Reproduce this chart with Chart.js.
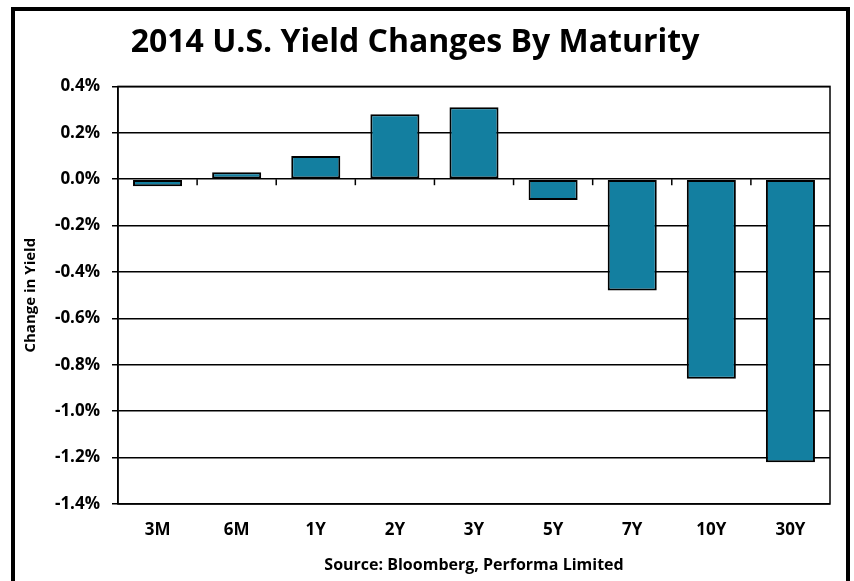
<!DOCTYPE html>
<html>
<head>
<meta charset="utf-8">
<script src="https://cdn.jsdelivr.net/npm/chart.js@4/dist/chart.umd.min.js"></script>
<style>
html,body{margin:0;padding:0;background:#fff;}
#wrap{position:relative;width:854px;height:581px;}
</style>
</head>
<body>
<div id="wrap"><canvas id="c" width="854" height="581"></canvas></div>
<script>
const categories = ['3M','6M','1Y','2Y','3Y','5Y','7Y','10Y','30Y'];
const yieldChanges = [-0.03, 0.03, 0.10, 0.28, 0.31, -0.09, -0.48, -0.86, -1.22];
const titleText = '2014 U.S. Yield Changes By Maturity';
const yTitle = 'Change in Yield';
const xTitle = 'Source: Bloomberg, Performa Limited';

const FONT = "'Open Sans', 'DejaVu Sans', sans-serif";

const framePlugin = {
  id: 'frame',
  beforeDraw(chart) {
    const ctx = chart.ctx;
    ctx.save();
    ctx.fillStyle = '#fff';
    ctx.fillRect(0, 0, chart.width, chart.height);
    ctx.strokeStyle = '#000';
    ctx.lineWidth = 4;
    ctx.strokeRect(13, 9, 835, 600);
    ctx.restore();
  },
  afterDatasetsDraw(chart) {
    const ctx = chart.ctx;
    const a = chart.chartArea;
    const x = chart.scales.x, y = chart.scales.y;
    ctx.save();
    ctx.strokeStyle = '#000';
    ctx.lineWidth = 1.5;
    ctx.strokeRect(a.left, a.top, a.right - a.left, a.bottom - a.top);
    const y0 = y.getPixelForValue(0);
    for (let i = 0; i < categories.length - 1; i++) {
      const xb = (x.getPixelForValue(i) + x.getPixelForValue(i + 1)) / 2;
      ctx.beginPath();
      ctx.moveTo(xb, y0);
      ctx.lineTo(xb, y0 + 6);
      ctx.stroke();
    }
    ctx.restore();
  }
};

new Chart(document.getElementById('c'), {
  type: 'bar',
  data: {
    labels: categories,
    datasets: [{
      data: yieldChanges,
      backgroundColor: '#137FA0',
      borderColor: '#000',
      borderWidth: 2,
      borderSkipped: false,
      categoryPercentage: 1,
      barPercentage: 0.62
    }]
  },
  options: {
    responsive: false,
    animation: false,
    devicePixelRatio: 1,
    layout: { padding: { top: 0, left: 0, right: 24, bottom: 0 } },
    plugins: {
      legend: { display: false },
      tooltip: { enabled: false },
      title: {
        display: true,
        text: titleText,
        color: '#000',
        font: { family: FONT, size: 32, weight: 'bold' },
        padding: { top: 24, bottom: 24 }
      }
    },
    scales: {
      y: {
        min: -1.4,
        max: 0.4,
        afterFit(s) { s.width = 118; },
        ticks: {
          stepSize: 0.2,
          color: '#000',
          padding: 12,
          font: { family: FONT, size: 17, weight: 'bold' },
          callback: v => (Math.round(v * 10) / 10).toFixed(1) + '%'
        },
        grid: {
          color: '#000',
          lineWidth: 1.5,
          drawTicks: true,
          tickLength: 6,
          tickColor: '#000'
        },
        border: { display: true, color: '#000', width: 1.5 },
        title: {
          display: true,
          text: yTitle,
          color: '#000',
          font: { family: FONT, size: 15, weight: 'bold' },
          padding: { top: 22, bottom: 0 }
        }
      },
      x: {
        afterFit(s) { s.height = 77; },
        ticks: {
          color: '#000',
          padding: 16,
          font: { family: FONT, size: 17, weight: 'bold' }
        },
        grid: { display: false, drawTicks: false },
        border: { display: false },
        title: {
          display: true,
          text: xTitle,
          color: '#000',
          font: { family: FONT, size: 16, weight: 'bold' },
          padding: { top: 0, bottom: 6 }
        }
      }
    }
  },
  plugins: [framePlugin]
});
</script>
</body>
</html>
